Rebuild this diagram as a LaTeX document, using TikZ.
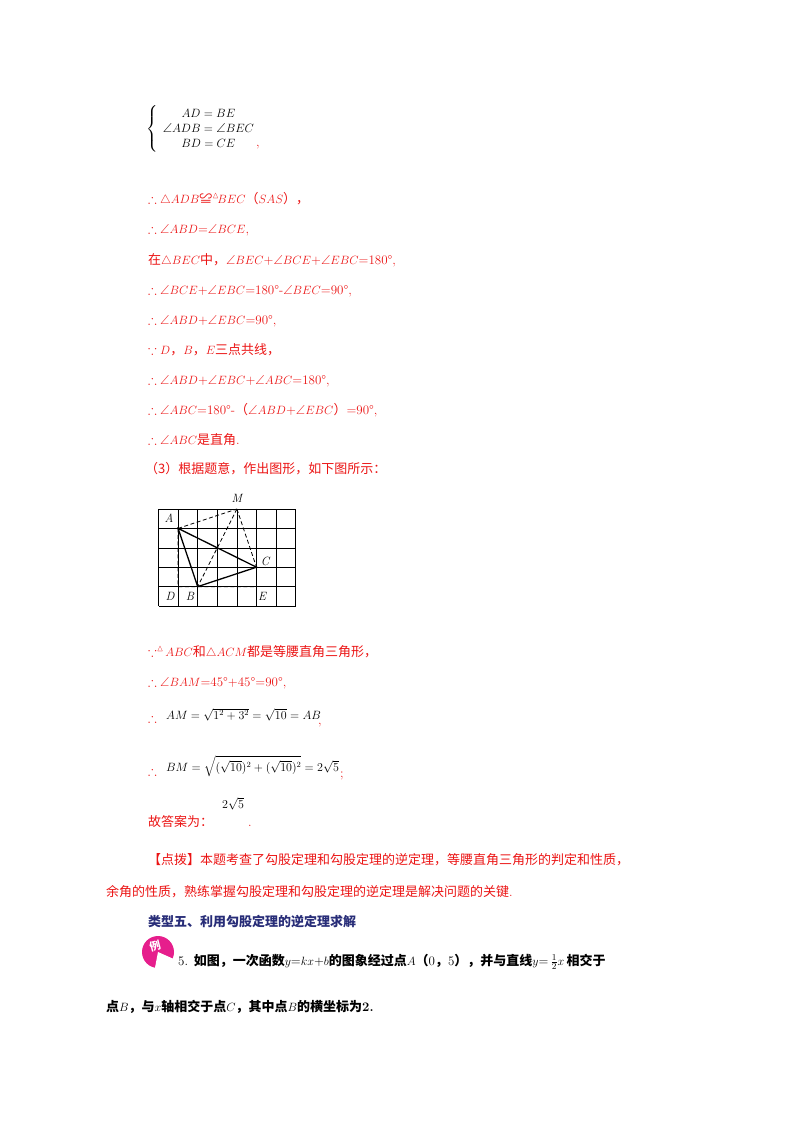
\documentclass[tikz,border=0pt]{standalone}
\usepackage{amsmath,amssymb}
\usepackage{fontspec}
\newfontfamily\cjk{Noto Sans CJK SC}
\definecolor{rd}{RGB}{235,20,20}
\definecolor{nv}{RGB}{40,45,120}
\definecolor{mg}{RGB}{230,30,140}
\begin{document}
\begin{tikzpicture}[x=1pt,y=-1pt,
  t/.style={anchor=base west,inner sep=0pt,font=\fontsize{13}{15}\selectfont,text=rd},
  k/.style={anchor=base west,inner sep=0pt,font=\fontsize{13}{15}\selectfont},
  lb/.style={inner sep=0pt,font=\fontsize{12}{14}\selectfont\itshape},
  sol/.style={line width=1.3pt},
  dsh/.style={dashed,line width=0.8pt,dash pattern=on 4pt off 2.5pt}]
\useasboundingbox (0,0) rectangle (800,1132);
% system
\node[k,anchor=west] (sys) at (146,129) {\fontsize{13}{15}\selectfont$\left\{\begin{array}{c}AD=BE\\ \angle ADB=\angle BEC\\ BD=CE\end{array}\right.$};
\node[t] (c0) at (256,146) {,};
\node[t] (l1) at (148,203) {$\therefore\triangle ADB${\cjk ≌}$^{\vartriangle}\!BEC${\cjk （}$SAS${\cjk ），}};
\node[t] (l2) at (148,233) {$\therefore\angle ABD$=$\angle BCE$,};
\node[t] (l3) at (148,264) {{\cjk 在}$\triangle BEC${\cjk 中，}$\angle BEC$+$\angle BCE$+$\angle EBC$=180°,};
\node[t] (l4) at (148,294) {$\therefore\angle BCE$+$\angle EBC$=180°-$\angle BEC$=90°,};
\node[t] (l5) at (148,324) {$\therefore\angle ABD$+$\angle EBC$=90°,};
\node[t] (l6) at (148,354) {$\because D${\cjk ，}$B${\cjk ，}$E${\cjk 三点共线，}};
\node[t] (l7) at (148,384) {$\therefore\angle ABD$+$\angle EBC$+$\angle ABC$=180°,};
\node[t] (l8) at (148,414) {$\therefore\angle ABC$=180°-{\cjk （}$\angle ABD$+$\angle EBC${\cjk ）}=90°,};
\node[t] (l9) at (148,444) {$\therefore\angle ABC${\cjk 是直角}.};
\node[t] (l10) at (145,473) {{\cjk （3）根据题意，作出图形，如下图所示：}};
% grid
\begin{scope}[shift={(158.5,509)},x=19.6pt,y=-19.4pt]
\foreach \i in {0,...,7} \draw[line width=0.6pt] (\i,0) -- (\i,5);
\foreach \j in {0,...,5} \draw[line width=0.6pt] (0,\j) -- (7,\j);
\coordinate (A) at (1,1); \coordinate (M) at (4,0); \coordinate (C) at (5,3);
\coordinate (B) at (2,4); \coordinate (D) at (1,4); \coordinate (E) at (5,4);
\draw[dsh] (A)--(M) (M)--(C) (M)--(B) (A)--(D)--(E)--(C);
\draw[sol] (A)--(C)--(B)--cycle;
\end{scope}
\node[lb,fill=white,inner sep=1pt] (lA) at (169,518) {A};
\node[lb] (lM) at (237,498) {M};
\node[lb,fill=white,inner sep=1pt] (lC) at (265,561) {C};
\node[lb,fill=white,inner sep=1pt] (lD) at (170,596) {D};
\node[lb,fill=white,inner sep=1pt] (lB) at (190,596) {B};
\node[lb,fill=white,inner sep=1pt] (lE) at (262,596) {E};
% after
\node[t] (m1) at (148,656) {$\because^{\vartriangle}\!ABC${\cjk 和}$\triangle ACM${\cjk 都是等腰直角三角形，}};
\node[t] (m2) at (148,686) {$\therefore\angle BAM$=45°+45°=90°,};
\node[t] (m3) at (148,722) {$\therefore$};
\node[k] (m3b) at (166,719) {\fontsize{12}{14}\selectfont$AM=\sqrt{1^2+3^2}=\sqrt{10}=AB$};
\node[t] (m3c) at (318,724) {,};
\node[t] (m4) at (148,775) {$\therefore$};
\node[k] (m4b) at (166,771) {\fontsize{11.5}{13}\selectfont$BM=\sqrt{(\sqrt{10})^2+(\sqrt{10})^2}=2\sqrt5$};
\node[t] (m4c) at (340,777) {;};
\node[t] (m5) at (148,826) {{\cjk 故答案为：}};
\node[k] (m5b) at (222,808) {\fontsize{13}{15}\selectfont$2\sqrt5$};
\node[t] (m5c) at (248,826) {.};
\node[t] (p1) at (148,864) {{\cjk 【点拨】本题考查了勾股定理和勾股定理的逆定理，等腰直角三角形的判定和性质，}};
\node[t] (p2) at (106,896) {{\cjk 余角的性质，熟练掌握勾股定理和勾股定理的逆定理是解决问题的关键}.};
\node[k,text=nv] (h) at (148,926) {{\cjk\bfseries 类型五、利用勾股定理的逆定理求解}};
\fill[mg] (158,952) circle (16);
\fill[white] (158,952) -- (176,960) arc (24:100:20) -- cycle;
\node[inner sep=0pt,text=white,font=\fontsize{11}{13}\selectfont\cjk\bfseries,rotate=15] (li) at (155,946) {例};
\node[k] (e1) at (178,965) {5. {\cjk\bfseries 如图，一次函数}$y$={$kx$}+$b${\cjk\bfseries 的图象经过点}$A${\cjk\bfseries （}0{\cjk\bfseries ，}5{\cjk\bfseries ），并与直线}$y$=\,$\tfrac12x$\,{\cjk\bfseries 相交于}};
\node[k] (e2) at (106,1011) {{\cjk\bfseries 点}$B${\cjk\bfseries ，与}$x${\cjk\bfseries 轴相交于点}$C${\cjk\bfseries ，其中点}$B${\cjk\bfseries 的横坐标为}\textbf{2.}};
\end{tikzpicture}
\end{document}
